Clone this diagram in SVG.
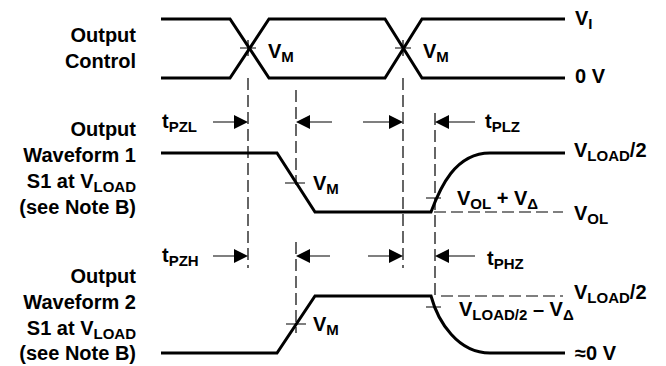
<svg xmlns="http://www.w3.org/2000/svg" width="666" height="366" viewBox="0 0 666 366">
<style>
text{font-family:"Liberation Sans",Arial,sans-serif;font-weight:bold;font-size:20px;fill:#000}
.lbl{text-anchor:end}
.sub{font-size:15px}
.wave{fill:none;stroke:#000;stroke-width:3;stroke-linejoin:miter}
.dash{fill:none;stroke:#000;stroke-width:1.2;stroke-dasharray:12 5}
.tick{fill:none;stroke:#000;stroke-width:1.2}
.arr{fill:none;stroke:#000;stroke-width:1.2}
.head{fill:#000;stroke:none}
</style>
<rect width="666" height="366" fill="#fff"/>

<g id="labels-left">
<text class="lbl" x="136" y="42">Output</text>
<text class="lbl" x="136" y="68">Control</text>
<text class="lbl" x="136" y="136">Output</text>
<text class="lbl" x="136" y="162">Waveform 1</text>
<text class="lbl" x="136" y="188">S1 at V<tspan class="sub" dy="4">LOAD</tspan></text>
<text class="lbl" x="136" y="214">(see Note B)</text>
<text class="lbl" x="136" y="283">Output</text>
<text class="lbl" x="136" y="309">Waveform 2</text>
<text class="lbl" x="136" y="335">S1 at V<tspan class="sub" dy="4">LOAD</tspan></text>
<text class="lbl" x="136" y="360">(see Note B)</text>
</g>

<g id="output-control">
<path class="wave" d="M161,19 H230 L269,78 H385 L422,19 H565"/>
<path class="wave" d="M161,78 H230 L269,19 H385 L422,78 H565"/>
<path class="tick" d="M240,48 H256 M248,40 V56 M395,48 H411 M403,40 V56"/>
<text x="268" y="58">V<tspan class="sub" dy="4">M</tspan></text>
<text x="423" y="58">V<tspan class="sub" dy="4">M</tspan></text>
<text x="575" y="25">V<tspan class="sub" dy="4">I</tspan></text>
<text x="575" y="83">0 V</text>
</g>

<g id="waveform1">
<path class="wave" d="M161,153 H277 L315,212 H431 C440,188 455,153 490,153 H565"/>
<path class="tick" d="M285,183 H305 M426,198 H441"/>
<text x="313" y="190">V<tspan class="sub" dy="4">M</tspan></text>
<text x="457" y="205">V<tspan class="sub" dy="4">OL</tspan><tspan dy="-4"> + V</tspan><tspan class="sub" dy="4">Δ</tspan></text>
<text x="574" y="157">V<tspan class="sub" dy="4">LOAD</tspan><tspan dy="-4">/2</tspan></text>
<text x="574" y="220">V<tspan class="sub" dy="4">OL</tspan></text>
</g>

<g id="waveform2">
<path class="wave" d="M161,353 H277 L315,296 H431 C438,322 458,353 490,353 H565"/>
<path class="tick" d="M286,324 H306 M426,307 H441"/>
<text x="313" y="331">V<tspan class="sub" dy="4">M</tspan></text>
<text x="459" y="316">V<tspan class="sub" dy="4">LOAD/2</tspan><tspan dy="-4"> – V</tspan><tspan class="sub" dy="4">Δ</tspan></text>
<text x="574" y="299">V<tspan class="sub" dy="4">LOAD</tspan><tspan dy="-4">/2</tspan></text>
<text x="575" y="360">≈0 V</text>
</g>

<g id="connectors">
<path class="dash" d="M248,78 V268"/>
<path class="dash" d="M296,90 V185"/>
<path class="dash" d="M296,242 V333"/>
<path class="dash" d="M403,78 V268"/>
<path class="dash" d="M435,113 V296"/>
<path class="dash" d="M434,212 H563"/>
<path class="dash" d="M441,296 H563"/>
<path class="arr" d="M213,122 H240 M304,122 H332 M363,122 H395 M443,122 H475"/>
<path class="head" d="M248,122 L234,115 V129 Z M296,122 L310,115 V129 Z M403,122 L389,115 V129 Z M435,122 L449,115 V129 Z"/>
<path class="arr" d="M213,256 H240 M304,256 H330 M368,256 H395 M443,256 H475"/>
<path class="head" d="M248,256 L234,249 V263 Z M296,256 L310,249 V263 Z M403,256 L389,249 V263 Z M435,256 L449,249 V263 Z"/>
</g>

<g id="timing-labels">
<text x="162" y="128">t<tspan class="sub" dy="4">PZL</tspan></text>
<text x="485" y="128">t<tspan class="sub" dy="4">PLZ</tspan></text>
<text x="162" y="262">t<tspan class="sub" dy="4">PZH</tspan></text>
<text x="487" y="265">t<tspan class="sub" dy="4">PHZ</tspan></text>
</g>
</svg>
